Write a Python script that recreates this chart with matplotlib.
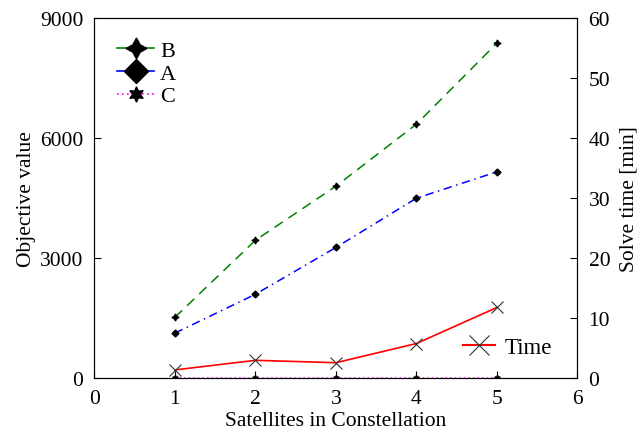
import matplotlib
matplotlib.use("Agg")
import matplotlib.pyplot as plt
from matplotlib.lines import Line2D

plt.rcParams['font.family'] = ['Liberation Serif', 'DejaVu Serif']
plt.rcParams['font.size'] = 15.5

satellites = [1, 2, 3, 4, 5]
obj_b = [1525, 3450, 4800, 6350, 8375]
obj_a = [1130, 2100, 3270, 4500, 5160]
obj_c = [0, 0, 0, 0, 0]
solve_time = [1.4, 3.0, 2.6, 5.8, 11.8]

star4 = (4, 1, 0)
star6 = (6, 1, 0)

fig, ax = plt.subplots(figsize=(6.38, 4.35), dpi=100)
fig.subplots_adjust(left=0.148, right=0.905, top=0.956, bottom=0.128)

ax.plot(satellites, obj_b, color='green', ls=(0, (6.5, 4.5)), lw=1.1,
        marker=star4, ms=5, mfc='k', mec='k')
ax.plot(satellites, obj_a, color='blue', ls=(0, (5.5, 3, 1, 3)), lw=1.1,
        marker='D', ms=3.5, mfc='k', mec='k')
ax.plot(satellites, obj_c, color='magenta', ls=(0, (1, 2)), lw=1.1,
        marker=star6, ms=4.5, mfc='k', mec='k')

ax.set_xlim(0, 6)
ax.set_ylim(0, 9000)
ax.set_xticks(range(0, 7))
ax.set_yticks([0, 3000, 6000, 9000])
ax.set_xlabel("Satellites in Constellation", labelpad=2)
ax.set_ylabel("Objective value", labelpad=3)
ax.tick_params(direction='in', length=5, top=False, pad=8)
for s in ax.spines.values():
    s.set_color('#333333')

ax2 = ax.twinx()
ax2.plot(satellites, solve_time, color='red', lw=1.2,
         marker='x', ms=9, mec='#333333', mew=0.8)
ax2.set_ylim(0, 60)
ax2.set_yticks(range(0, 61, 10))
ax2.set_ylabel("Solve time [min]", labelpad=6.5)
ax2.tick_params(direction='in', length=5, pad=8)

handles = [
    Line2D([], [], color='green', lw=1.2, marker=star4, ms=15, mfc='k', mec='k'),
    Line2D([], [], color='blue', lw=1.2, marker='D', ms=12, mfc='k', mec='k'),
    Line2D([], [], color='magenta', ls=(0, (1, 2)), lw=1.2, marker=star6, ms=11, mfc='k', mec='k'),
]
ax.legend(handles, ['B', 'A', 'C'], loc='upper left', frameon=False,
          handlelength=1.7, handletextpad=0.25, labelspacing=0.1,
          borderaxespad=0.6, fontsize=16)
time_handle = Line2D([], [], color='red', lw=1.5, marker='x', ms=15,
                     mec='#333333', mew=0.8)
ax2.legend([time_handle], ['Time'], loc='lower right', frameon=False,
           handlelength=1.4, handletextpad=0.4, bbox_to_anchor=(0.99, 0.0),
           fontsize=16.5)

fig.savefig("out.png", dpi=100)
